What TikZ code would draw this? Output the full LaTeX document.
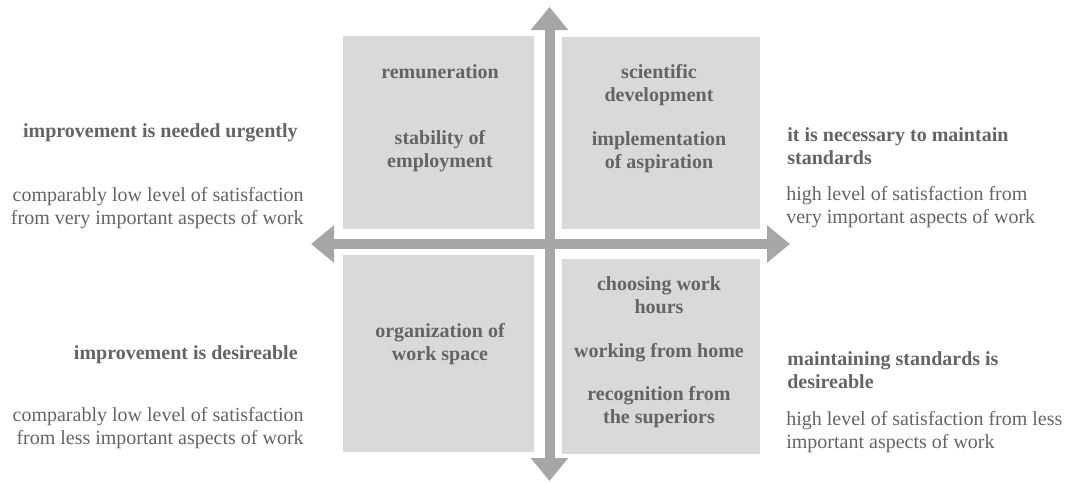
\documentclass[tikz,border=0pt]{standalone}
\usepackage{fontspec}
\setmainfont{Liberation Serif}
\usetikzlibrary{arrows.meta}
\definecolor{boxfill}{HTML}{D9D9D9}
\definecolor{arrowcol}{HTML}{A6A6A6}
\definecolor{txt}{HTML}{646464}
\tikzset{
  quad/.style={fill=boxfill, draw=none, inner sep=0pt, anchor=north west},
  boxtext/.style={font=\fontsize{12}{13.8}\selectfont\bfseries, text=txt, align=center, inner sep=0pt},
  sidehead/.style={font=\fontsize{12}{13.8}\selectfont\bfseries, text=txt, inner sep=0pt},
  sidetext/.style={font=\fontsize{12}{13.8}\selectfont, text=txt, inner sep=0pt},
  axis/.style={draw=arrowcol, line width=6pt,
    {Triangle[length=13.8pt, width=21.6pt]}-{Triangle[length=13.8pt, width=21.6pt]}}
}
\begin{document}
\begin{tikzpicture}[x=0.6pt, y=-0.6pt]
\useasboundingbox (0,0) rectangle (1078,483);
% quadrants
\node[quad, minimum width=191*0.6pt, minimum height=193*0.6pt] (tl) at (343,36) {};
\node[quad, minimum width=198*0.6pt, minimum height=192*0.6pt] (tr) at (562,37) {};
\node[quad, minimum width=191*0.6pt, minimum height=197*0.6pt] (bl) at (343,255) {};
\node[quad, minimum width=198*0.6pt, minimum height=195*0.6pt] (br) at (562,259) {};
% axes
\coordinate (top) at (549.5,7);
\coordinate (bottom) at (549.5,481);
\coordinate (left) at (311,244);
\coordinate (right) at (790,244);
\draw[axis] (left) -- (right);
\draw[axis] (bottom) -- (top);
% box texts
\node[boxtext] (t1) at (440,72) {remuneration};
\node[boxtext] (t2) at (440,151.5) {stability of\\employment};
\node[boxtext] (t3) at (659,85.5) {scientific\\development};
\node[boxtext] (t4) at (659,152.5) {implementation\\of aspiration};
\node[boxtext] (t5) at (440,344.5) {organization of\\work space};
\node[boxtext] (t6) at (659,295.5) {choosing work\\hours};
\node[boxtext] (t7) at (659,353) {working from home};
\node[boxtext] (t8) at (659,407) {recognition from\\the superiors};
% left side
\node[sidehead, anchor=east] (l1) at (298,133) {improvement is needed urgently};
\node[sidetext, anchor=east, align=right] (l2) at (304,208.5) {comparably low level of satisfaction\\from very important aspects of work};
\node[sidehead, anchor=east] (l3) at (298,355) {improvement is desireable};
\node[sidetext, anchor=east, align=right] (l4) at (304,428.5) {comparably low level of satisfaction\\from less important aspects of work};
% right side
\node[sidehead, anchor=west, align=left] (r1) at (787,146) {it is necessary to maintain\\standards};
\node[sidetext, anchor=west, align=left] (r2) at (786,207.5) {high level of satisfaction from\\very important aspects of work};
\node[sidehead, anchor=west, align=left] (r3) at (787,370) {maintaining standards is\\desireable};
\node[sidetext, anchor=west, align=left] (r4) at (786,432.5) {high level of satisfaction from less\\important aspects of work};
\end{tikzpicture}
\end{document}
